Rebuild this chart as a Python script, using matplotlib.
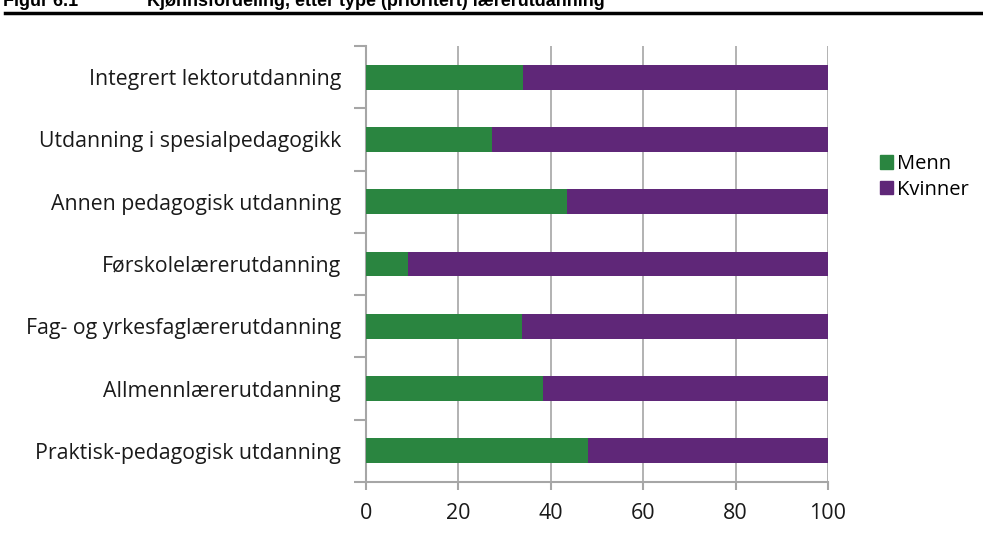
import matplotlib.pyplot as plt
from matplotlib.lines import Line2D
from matplotlib.patches import Patch

categories = [
    "Praktisk-pedagogisk utdanning",
    "Allmennlærerutdanning",
    "Fag- og yrkesfaglærerutdanning",
    "Førskolelærerutdanning",
    "Annen pedagogisk utdanning",
    "Utdanning i spesialpedagogikk",
    "Integrert lektorutdanning",
]
menn = [48.1, 38.3, 33.8, 9.1, 43.5, 27.3, 34.0]
kvinner = [100 - m for m in menn]
xticks = [0, 20, 40, 60, 80, 100]

GREEN = "#2a8540"
PURPLE = "#5f2778"
GRID = "#a6a6a6"

plt.rcParams["font.family"] = ["Open Sans", "DejaVu Sans"]

fig = plt.figure(figsize=(9.83, 5.38), dpi=100)
ax = fig.add_axes([0.3723, 0.104, 0.470, 0.8105])

y = range(len(categories))
ax.barh(y, menn, height=0.4, color=GREEN, label="Menn", zorder=3)
ax.barh(y, kvinner, left=menn, height=0.4, color=PURPLE, label="Kvinner", zorder=3)

ax.set_xlim(0, 100)
ax.set_ylim(-0.5, len(categories) - 0.5)
ax.set_xticks(xticks)
ax.set_xticklabels([str(t) for t in xticks], fontsize=15.5, color="#1a1a1a")
ax.set_yticks(list(y))
ax.set_yticklabels(categories, fontsize=15.3, color="#1a1a1a")
ax.set_yticks([i - 0.5 for i in range(len(categories) + 1)], minor=True)
ax.tick_params(axis="y", which="major", length=0, pad=18)
ax.tick_params(axis="y", which="minor", length=9, color=GRID, width=1.5)
ax.tick_params(axis="x", length=6, color=GRID, width=1.5, pad=9)
ax.grid(axis="x", color=GRID, lw=1.2, zorder=0)
for s in ["top", "right"]:
    ax.spines[s].set_visible(False)
for s in ["left", "bottom"]:
    ax.spines[s].set_color(GRID)
    ax.spines[s].set_linewidth(1.5)

handles = [Patch(color=GREEN, label="Menn"), Patch(color=PURPLE, label="Kvinner")]
fig.legend(handles=handles, loc="upper left", bbox_to_anchor=(0.881, 0.740),
           frameon=False, fontsize=14.5, handlelength=0.65, handleheight=0.65,
           handletextpad=0.2, labelspacing=0.28, borderpad=0.2)

# cut-off header at the top
fig.text(0.003, 1 - 6 / 538, "Figur 6.1", fontsize=13, fontweight="bold",
         family="Liberation Sans", va="baseline")
fig.text(0.150, 1 - 6 / 538, "Kjønnsfordeling, etter type (prioritert) lærerutdanning",
         fontsize=13, fontweight="bold", family="Liberation Sans", va="baseline")
fig.add_artist(Line2D([0.005, 1.0], [1 - 13 / 538] * 2, color="black", lw=2.5,
                      transform=fig.transFigure))

fig.savefig("out.png", dpi=100)
